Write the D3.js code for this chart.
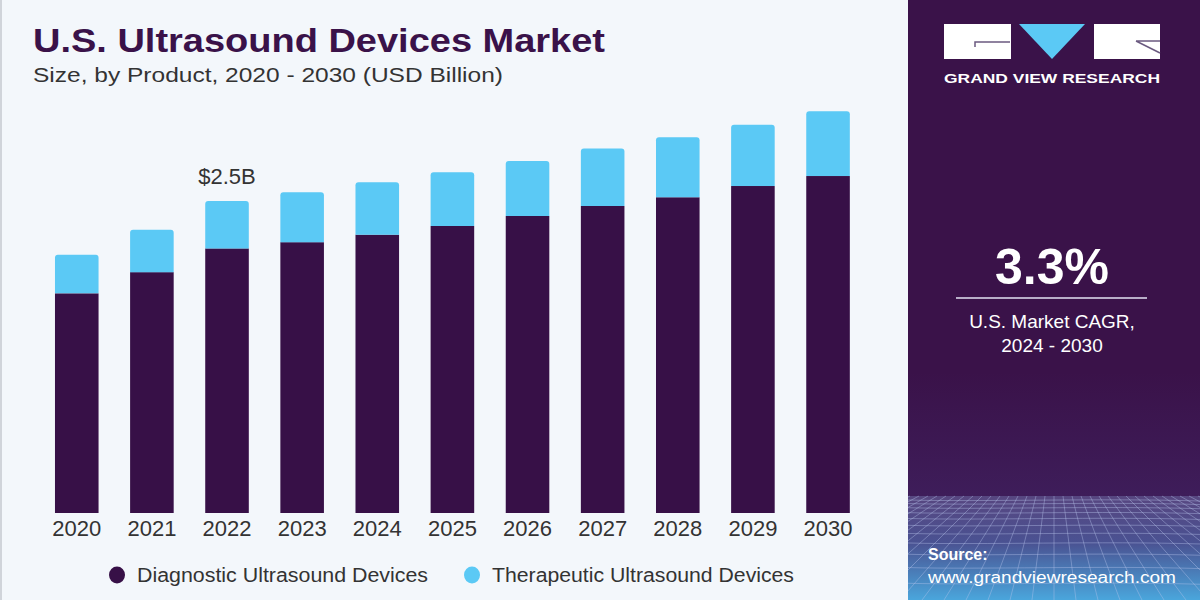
<!DOCTYPE html>
<html><head><meta charset="utf-8">
<script src="https://cdn.jsdelivr.net/npm/d3@7"></script>
<style>html,body{margin:0;padding:0;background:#f3f7fb;}svg{display:block;}</style>
</head><body>
<svg id="c" width="1200" height="600"></svg>
<script>
const years = ["2020","2021","2022","2023","2024","2025","2026","2027","2028","2029","2030"];
const diagnostic = [1.76,1.93,2.12,2.17,2.23,2.30,2.38,2.46,2.53,2.62,2.70];
const therapeutic = [0.31,0.34,0.38,0.40,0.42,0.43,0.44,0.46,0.48,0.49,0.52];
const seriesNames = ["Diagnostic Ultrasound Devices","Therapeutic Ultrasound Devices"];
const annotation = {year:"2022", label:"$2.5B"};
const cagr = "3.3%";

const C = {diag:"#371047", ther:"#5bc9f5", panel:"#3a1249", text:"#333333", bg:"#f3f7fb"};
const svg = d3.select("#c");
const FONT = "'Liberation Sans', Arial, sans-serif";

svg.append("rect").attr("width",1200).attr("height",600).attr("fill",C.bg);
svg.append("rect").attr("x",0).attr("y",0).attr("width",2).attr("height",600).attr("fill","#d0d4da");

// Title
svg.append("text").attr("x",33).attr("y",52).attr("font-family",FONT).attr("font-weight","bold")
  .attr("font-size",33).attr("fill","#3a1249").attr("textLength",572).attr("lengthAdjust","spacingAndGlyphs")
  .text("U.S. Ultrasound Devices Market");
svg.append("text").attr("x",33).attr("y",82).attr("font-family",FONT)
  .attr("font-size",21).attr("fill",C.text).attr("textLength",470).attr("lengthAdjust","spacingAndGlyphs")
  .text("Size, by Product, 2020 - 2030 (USD Billion)");

// Scales
const x = d3.scaleBand().domain(years).range([39.2,865.6]).paddingInner(0.42).paddingOuter(0.21);
const y = d3.scaleLinear().domain([0,2.5]).range([513,201]);

const data = years.map((yr,i)=>({year:yr, diag:diagnostic[i], ther:therapeutic[i]}));
const stack = d3.stack().keys(["diag","ther"])(data);

const r = 3;
function roundTop(x0,y0,w,h,rr){
  return `M${x0},${y0+h}V${y0+rr}Q${x0},${y0} ${x0+rr},${y0}H${x0+w-rr}Q${x0+w},${y0} ${x0+w},${y0+rr}V${y0+h}Z`;
}
const g = svg.append("g");
g.selectAll("rect.d").data(stack[0]).join("rect").attr("class","d")
  .attr("x",d=>x(d.data.year)).attr("width",x.bandwidth())
  .attr("y",d=>y(d[1])).attr("height",d=>y(d[0])-y(d[1])).attr("fill",C.diag);
g.selectAll("path.t").data(stack[1]).join("path").attr("class","t")
  .attr("d",d=>roundTop(x(d.data.year), y(d[1]), x.bandwidth(), y(d[0])-y(d[1]), r))
  .attr("fill",C.ther);

// x axis labels
const xAxis = d3.axisBottom(x).tickSize(0).tickPadding(0);
const ax = svg.append("g").attr("transform","translate(0,520)").call(xAxis);
ax.select(".domain").remove();
ax.selectAll("text").attr("font-family",FONT).attr("font-size",22).attr("fill",C.text).attr("dy","0.71em").attr("y",0);

// annotation
const ai = years.indexOf(annotation.year);
svg.append("text").attr("x",x(annotation.year)+x.bandwidth()/2).attr("y",y(diagnostic[ai]+therapeutic[ai])-17)
  .attr("text-anchor","middle").attr("font-family",FONT).attr("font-size",22).attr("fill",C.text)
  .text(annotation.label);

// legend
const legend = svg.append("g");
const legItems = [{name:seriesNames[0],color:C.diag,cx:117,tx:137,len:291},{name:seriesNames[1],color:C.ther,cx:472,tx:492,len:302}];
legItems.forEach(it=>{
  legend.append("ellipse").attr("cx",it.cx).attr("cy",575).attr("rx",8).attr("ry",8.5).attr("fill",it.color);
  legend.append("text").attr("x",it.tx).attr("y",582).attr("font-family",FONT).attr("font-size",20)
    .attr("fill",C.text).attr("textLength",it.len).attr("lengthAdjust","spacingAndGlyphs").text(it.name);
});

// right panel
const defs = svg.append("defs");
defs.append("clipPath").attr("id","pclip").append("rect").attr("x",908).attr("y",0).attr("width",292).attr("height",600);
const pg = defs.append("linearGradient").attr("id","pg").attr("x1",0).attr("y1",0).attr("x2",0).attr("y2",1);
pg.append("stop").attr("offset","0%").attr("stop-color","#3a1249");
pg.append("stop").attr("offset","75%").attr("stop-color","#3a1249");
pg.append("stop").attr("offset","100%").attr("stop-color","#3e1d5a");
svg.append("rect").attr("x",908).attr("y",0).attr("width",292).attr("height",496).attr("fill","url(#pg)");
const bg2 = defs.append("linearGradient").attr("id","bg2").attr("x1",0).attr("y1",0).attr("x2",0).attr("y2",1);
bg2.append("stop").attr("offset","0%").attr("stop-color","#574680");
bg2.append("stop").attr("offset","45%").attr("stop-color","#4a5292");
bg2.append("stop").attr("offset","100%").attr("stop-color","#4aa6dc");
svg.append("rect").attr("x",908).attr("y",496).attr("width",292).attr("height",104).attr("fill","url(#bg2)");
// decorative perspective grid
const grid = svg.append("g").attr("clip-path","url(#pclip)").attr("stroke","#b9c6ee").attr("stroke-opacity",0.4).attr("stroke-width",1).attr("fill","none");
let yy = 500, step = 3;
while (yy < 600) { grid.append("path").attr("d",`M908,${yy}C980,${yy+2} 1100,${yy-2} 1200,${yy+1}`); step *= 1.18; yy += step; }
for (let i=-30;i<=30;i++){
  const xt = 1054 + i*9, xb = 1054 + i*22;
  grid.append("line").attr("x1",xt).attr("y1",496).attr("x2",xb).attr("y2",600);
}

// logo
const logo = svg.append("g");
logo.append("rect").attr("x",944).attr("y",24).attr("width",67).attr("height",35).attr("fill","#ffffff");
logo.append("path").attr("d","M1010,42H975V47").attr("stroke","#6b5a80").attr("stroke-width",1.5).attr("fill","none");
logo.append("path").attr("d","M1019,24H1085L1052,59Z").attr("fill","#5bc9f5");
logo.append("rect").attr("x",1094).attr("y",24).attr("width",66).attr("height",35).attr("fill","#ffffff");
logo.append("path").attr("d","M1136,41L1160,53M1136,41H1160").attr("stroke","#6b5a80").attr("stroke-width",1.5).attr("fill","none");
logo.append("text").attr("x",944).attr("y",83).attr("font-family",FONT).attr("font-weight","bold").attr("font-size",13)
  .attr("fill","#ffffff").attr("textLength",216).attr("lengthAdjust","spacingAndGlyphs").text("GRAND VIEW RESEARCH");

// CAGR
svg.append("text").attr("x",1052).attr("y",284).attr("text-anchor","middle").attr("font-family",FONT)
  .attr("font-weight","bold").attr("font-size",50).attr("fill","#ffffff").text(cagr);
svg.append("line").attr("x1",956).attr("x2",1147).attr("y1",298).attr("y2",298).attr("stroke","#b8aec8").attr("stroke-width",2);
svg.append("text").attr("x",1052).attr("y",328).attr("text-anchor","middle").attr("font-family",FONT)
  .attr("font-size",19).attr("fill","#ffffff").text("U.S. Market CAGR,");
svg.append("text").attr("x",1052).attr("y",352).attr("text-anchor","middle").attr("font-family",FONT)
  .attr("font-size",19).attr("fill","#ffffff").text("2024 - 2030");

// source
svg.append("text").attr("x",928).attr("y",560).attr("font-family",FONT).attr("font-weight","bold")
  .attr("font-size",16).attr("fill","#ffffff").text("Source:");
svg.append("text").attr("x",928).attr("y",583).attr("font-family",FONT)
  .attr("font-size",16).attr("fill","#ffffff").attr("textLength",248).attr("lengthAdjust","spacingAndGlyphs")
  .text("www.grandviewresearch.com");
</script>
</body></html>
